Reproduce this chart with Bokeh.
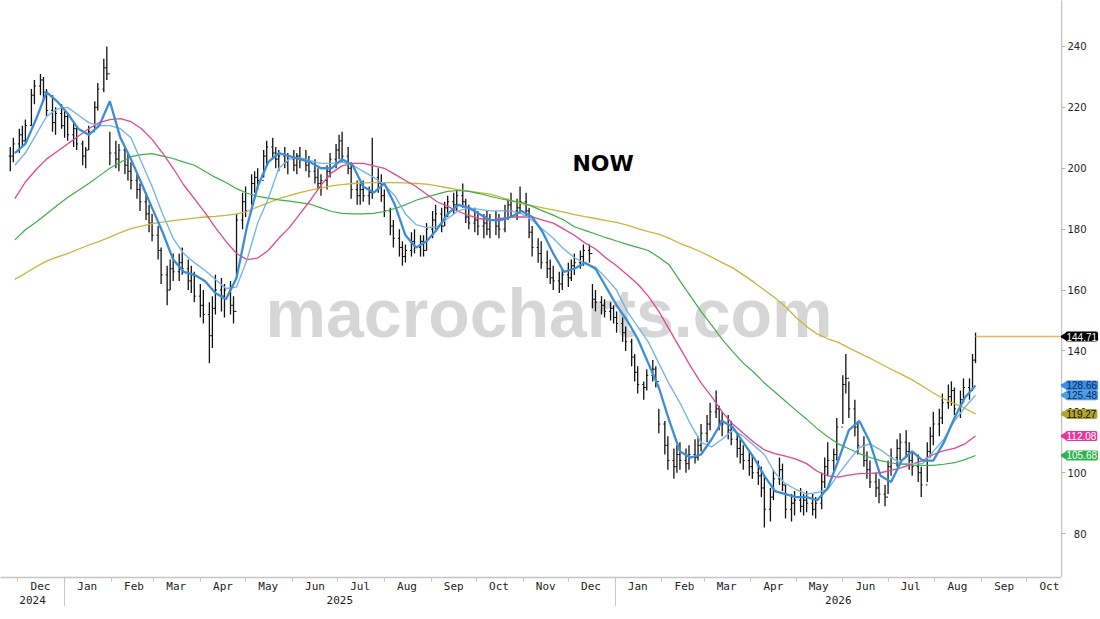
import numpy as np
import pandas as pd
from bokeh.plotting import figure
from bokeh.layouts import row
from bokeh.models import Range1d, LinearAxis, FixedTicker, CustomJSTickFormatter, ColumnDataSource
from bokeh.core.properties import value
from bokeh.embed import file_html
from bokeh.resources import INLINE

# ---------------- data ----------------
bar_start = "2024-11-26"      # first bar; one bar every 2 business days
bar_step = "2B"

high = [
    207, 210, 213, 214, 216, 226, 229, 231, 230, 226,
    224, 220, 221, 219, 218, 215, 214, 209, 207, 214,
    222, 228, 236, 240, 212, 209, 208, 207, 205, 202,
    198, 195, 192, 188, 185, 181, 174, 168, 170, 172,
    172, 174, 170, 168, 166, 162, 160, 156, 158, 165,
    164, 162, 163, 158, 185, 192, 194, 198, 199, 200,
    206, 209, 210, 207, 206, 207, 205, 206, 205, 207,
    206, 204, 203, 200, 198, 201, 205, 208, 211, 212,
    207, 202, 196, 195, 196, 194, 210, 200, 198, 193,
    187, 183, 180, 176, 175, 179, 180, 178, 178, 182,
    186, 188, 187, 189, 191, 192, 193, 195, 190, 188,
    187, 186, 185, 186, 185, 186, 185, 188, 190, 192,
    190, 194, 192, 187, 181, 177, 176, 173, 170, 168,
    166, 167, 169, 170, 172, 173, 175, 175, 162, 160,
    158, 157, 156, 155, 153, 151, 148, 144, 139, 135,
    130, 134, 137, 135, 121, 117, 112, 108, 109, 110,
    108, 109, 111, 112, 116, 119, 123, 127, 122, 120,
    119, 117, 113, 111, 109, 107, 106, 104, 102, 99,
    95, 101, 105, 103, 96, 93, 94, 95, 93, 94,
    93, 92, 100, 105, 110, 108, 118, 132, 139, 130,
    124, 117, 112, 107, 104, 100, 98, 96, 104, 108,
    111, 113, 114, 110, 107, 106, 102, 110, 115, 120,
    121, 126, 129, 130, 128, 127, 131, 131, 139, 146,
]
low = [
    199, 202, 205, 207, 208, 214, 221, 224, 222, 217,
    212, 211, 213, 210, 209, 207, 206, 201, 200, 206,
    213, 219, 225, 229, 201, 200, 199, 198, 196, 193,
    190, 186, 183, 179, 176, 170, 162, 155, 160, 163,
    163, 165, 160, 159, 156, 151, 149, 136, 141, 152,
    153, 151, 152, 149, 164, 180, 184, 188, 192, 193,
    197, 201, 203, 200, 199, 200, 198, 199, 198, 200,
    199, 197, 195, 193, 191, 193, 197, 200, 203, 202,
    198, 190, 188, 188, 189, 188, 190, 192, 189, 184,
    178, 174, 171, 168, 169, 171, 172, 171, 171, 173,
    177, 180, 179, 181, 184, 185, 186, 187, 182, 180,
    179, 178, 177, 178, 177, 178, 177, 179, 183, 184,
    183, 185, 184, 177, 171, 169, 167, 164, 162, 160,
    159, 160, 161, 163, 165, 167, 168, 169, 154, 153,
    152, 151, 150, 149, 146, 143, 140, 135, 130, 126,
    124, 127, 130, 128, 113, 106, 101, 98, 100, 101,
    100, 101, 103, 104, 107, 110, 114, 118, 114, 112,
    111, 109, 105, 103, 101, 99, 98, 96, 92, 82,
    84, 91, 96, 94, 85, 84, 86, 87, 86, 87,
    86, 85, 88, 95, 99, 100, 104, 116, 126, 118,
    112, 106, 102, 98, 95, 92, 90, 89, 93, 99,
    102, 104, 105, 101, 99, 97, 92, 97, 105, 109,
    112, 116, 121, 122, 119, 118, 123, 124, 127, 136,
]
close = [
    204, 208, 211, 209, 214, 224, 227, 229, 225, 219,
    215, 218, 214, 217, 211, 213, 208, 204, 206, 212,
    220, 226, 233, 231, 205, 203, 206, 201, 199, 196,
    193, 189, 185, 182, 178, 173, 165, 160, 167, 166,
    169, 167, 163, 165, 158, 155, 152, 145, 154, 160,
    158, 160, 155, 153, 183, 189, 186, 195, 197, 196,
    204, 207, 205, 203, 204, 202, 203, 201, 204, 203,
    201, 199, 197, 195, 196, 199, 203, 206, 209, 204,
    200, 193, 191, 193, 191, 192, 197, 195, 191, 186,
    181, 177, 174, 171, 173, 176, 174, 176, 173, 180,
    183, 185, 181, 187, 189, 188, 191, 189, 184, 182,
    183, 181, 182, 180, 183, 181, 180, 186, 188, 186,
    187, 189, 186, 179, 174, 172, 169, 167, 164, 163,
    162, 165, 164, 168, 169, 171, 173, 172, 157, 156,
    155, 153, 154, 151, 149, 146, 143, 138, 133, 129,
    128, 132, 134, 130, 116, 109, 104, 102, 106, 104,
    103, 106, 105, 109, 113, 116, 120, 121, 117, 116,
    114, 111, 108, 106, 104, 102, 100, 99, 95, 88,
    92, 98, 101, 96, 88, 90, 91, 89, 91, 90,
    88, 90, 97, 102, 104, 106, 115, 129, 131, 121,
    115, 109, 104, 101, 97, 95, 93, 92, 102, 105,
    108, 110, 107, 104, 102, 100, 96, 107, 112, 116,
    118, 123, 125, 127, 121, 124, 128, 127, 137, 144.71,
]

ma_start = "2024-11-29"       # moving averages read weekly (Fridays)
ma_step = "W-FRI"

ma_fast = [
    205, 208, 216, 225, 222, 218, 213, 211, 214, 222,
    210, 203, 195, 187, 179, 170, 166, 165, 163, 159,
    157, 164, 181, 194, 202, 205, 204, 203, 202, 200,
    200, 203, 201, 194, 192, 195, 188, 178, 174, 176,
    180, 185, 188, 187, 185, 183, 183, 184, 186, 184,
    179, 172, 166, 167, 169, 167, 161, 155, 150, 144,
    136, 128, 117, 107, 105, 106, 111, 117, 115, 110,
    105, 99, 94, 93, 92, 92, 91, 95, 104, 114,
    117, 110, 99, 97, 104, 107, 104, 104, 110, 118,
    124.7, 128.66,
]
ma_mid = [
    201, 205, 211, 217, 219.5, 220, 217.5, 215, 214, 214,
    213, 210, 202, 194, 185, 177, 172, 169, 166.5, 163.5,
    160.5, 161, 170, 182, 190, 200, 203, 203.5, 202.5, 201.6,
    201.6, 202, 201, 199, 197, 194.5, 191, 185, 181.5, 180.5,
    180.8, 183.5, 186, 187, 186.5, 186, 186, 186, 185, 183,
    180, 177, 173.5, 170.7, 168.7, 167.5, 164, 160, 153, 148,
    143, 136, 129, 123, 116, 110, 108.5, 111, 114, 112,
    109, 106, 100, 96.4, 94.5, 93, 93.5, 94.5, 99.5, 104,
    108.3, 109.5, 107.5, 105, 103, 103, 103, 107, 111, 117,
    121.5, 125.48,
]
ma_50 = [
    190, 195.5, 199.5, 203, 205.5, 208, 210.5, 213, 215, 216,
    216.3, 215.3, 213, 209.5, 205, 200, 194.5, 190, 185.5, 180.5,
    176, 172, 170, 170.5, 173, 177, 180.5, 185, 189.5, 194.5,
    198.5, 200.8, 201.6, 201.6, 200.8, 200, 198, 196, 194, 191.5,
    189, 187.5, 185.8, 184.5, 183.5, 183, 183.5, 184, 184, 184,
    183, 182, 180, 178, 175.5, 173.5, 170.5, 168, 165, 162,
    158, 153, 147, 141, 135, 129.5, 125, 120, 116, 113,
    110, 107.5, 106.3, 105.5, 104.5, 103, 100.5, 99, 98.6, 99.2,
    99.7, 99.8, 100, 100.8, 101.7, 102.8, 104, 106, 107.3, 108,
    109.5, 112.08,
]
ma_100 = [
    176.5, 179.8, 182.3, 185, 187.8, 190.4, 192.7, 195, 197.5, 200,
    202, 203.8, 204.5, 204.8, 204, 203.2, 202, 201, 199, 197,
    195.3, 193.3, 191.8, 190.8, 190.2, 189.6, 189.2, 188.7, 188.2, 187,
    185.8, 185.2, 185, 185, 185.2, 185.8, 186.8, 188, 189.5, 190.5,
    191.5, 192.4, 192.7, 192.4, 191.7, 190.8, 190, 189.3, 188.8, 187.5,
    186, 184.6, 183, 180.8, 179.6, 178.4, 177.2, 176.1, 175, 174,
    173, 170.8, 168.2, 163, 158, 153, 148.5, 143.8, 139.8, 136,
    133, 129.5, 126.5, 123.5, 120.5, 117.6, 114.5, 111.8, 109.5, 107.9,
    106.3, 105, 104, 103.2, 102.8, 102.5, 102.4, 102.4, 102.8, 103.3,
    104.3, 105.68,
]
ma_200 = [
    163.5, 165.5, 167.6, 169.5, 170.8, 172, 173.4, 174.8, 176, 177.4,
    178.9, 180.2, 181, 181.8, 182.3, 182.8, 183.2, 183.6, 184, 184.2,
    184.5, 185, 185.8, 187.3, 188.6, 190, 191, 192, 192.8, 193.5,
    194.2, 194.6, 195, 195.2, 195.3, 195.3, 195.3, 195.2, 195, 194.8,
    194.2, 193.6, 193, 192.5, 192, 191.5, 190.5, 189.4, 188.4, 187.7,
    187, 186.3, 185.6, 184.8, 184.1, 183.5, 182.8, 182.2, 181.3, 180.2,
    179.2, 178.4, 177, 175.3, 174, 172.5, 170.8, 169, 167.3, 165,
    162.6, 160, 157.5, 154.5, 151, 148, 145.6, 144, 142.8, 141,
    139.3, 137.6, 135.8, 134, 132.3, 130.5, 128.4, 126.2, 124.3, 122.7,
    121.2, 119.27,
]

view_start = "2024-11-19 12:00"
view_end = "2026-10-24"
y_min, y_max = 65.6, 255.1
y_ticks = [80, 100, 120, 140, 160, 180, 200, 220, 240]
month_first = "2024-12-01"
month_last = "2026-10-01"
year_breaks = ["2025-01-01", "2026-01-01"]
watermark_text = "macrocharts.com"
note_text = "NOW"

# ---------------- styles ----------------
BAR = "#111111"
C_FAST, C_MID, C_50, C_100, C_200 = "#3b8dd8", "#78b5e4", "#e3468d", "#3fae4a", "#c9b53c"
C_LAST = "#e8b46a"
AXIS = "#c4c4c4"
FRAME_W, FRAME_H, SIDE_W = 1061, 577, 39


def to_ms(idx):
    return np.asarray(pd.DatetimeIndex(idx).asi8, dtype=float) / 1e6


bx = to_ms(pd.date_range(bar_start, periods=len(close), freq=bar_step))
mx = to_ms(pd.date_range(ma_start, periods=len(ma_fast), freq=ma_step))
x0 = pd.Timestamp(view_start).value / 1e6
x1 = pd.Timestamp(view_end).value / 1e6
DAY = 86400000.0
yr = Range1d(y_min, y_max)

p = figure(frame_width=FRAME_W, frame_height=FRAME_H, x_axis_location=None, y_axis_location=None,
           x_range=Range1d(x0, x1), y_range=yr,
           output_backend="svg", toolbar_location=None,
           min_border_left=0, min_border_top=0, min_border_right=0, min_border_bottom=0,
           background_fill_color="white", border_fill_color="white", outline_line_color=None)
p.xgrid.visible = False
p.ygrid.visible = False

# watermark & note
p.text(x=[x0 + 0.517 * (x1 - x0)], y=[y_min + 0.459 * (y_max - y_min)], text=[watermark_text],
       text_font=value("Liberation Sans"), text_font_style="bold", text_font_size="68px",
       text_color="#d6d6d6", text_align="center", text_baseline="middle")
p.text(x=[x0 + 0.568 * (x1 - x0)], y=[y_min + 0.718 * (y_max - y_min)], text=[note_text],
       text_font=value("DejaVu Sans"), text_font_style="bold", text_font_size="22px",
       text_color="black", text_align="center", text_baseline="middle")

# OHLC bars
opens = [close[0]] + close[:-1]
p.segment(x0=bx, y0=low, x1=bx, y1=high, line_color=BAR, line_width=1.3)
p.segment(x0=bx - 1.0 * DAY, y0=opens, x1=bx, y1=opens, line_color=BAR, line_width=1)
p.segment(x0=bx, y0=close, x1=bx + 1.0 * DAY, y1=close, line_color=BAR, line_width=1)

# moving averages
p.line(mx, ma_200, line_color=C_200, line_width=1.3)
p.line(mx, ma_100, line_color=C_100, line_width=1.2)
p.line(mx, ma_50, line_color=C_50, line_width=1.3)
p.line(mx, ma_mid, line_color=C_MID, line_width=1.4)
p.line(mx, ma_fast, line_color=C_FAST, line_width=2.3)

# last price line
p.segment(x0=[bx[-1]], y0=[close[-1]], x1=[x1], y1=[close[-1]], line_color=C_LAST, line_width=1.5)

# bottom axes: months, then years
starts = pd.date_range(month_first, month_last, freq="MS")
mids = starts + pd.Timedelta(days=15)
month_js = ("const m=['Jan','Feb','Mar','Apr','May','Jun','Jul','Aug','Sep','Oct','Nov','Dec'];"
            "return m[new Date(tick).getUTCMonth()];")
ax_m = LinearAxis(ticker=FixedTicker(ticks=list(to_ms(mids)), minor_ticks=list(to_ms(starts))),
                  formatter=CustomJSTickFormatter(code=month_js),
                  axis_line_color=AXIS, axis_line_width=1.5,
                  major_tick_out=0, major_tick_in=0, minor_tick_out=4, minor_tick_in=0,
                  minor_tick_line_color=AXIS, major_label_standoff=-2,
                  major_label_text_font="DejaVu Sans Mono", major_label_text_font_size="11px",
                  major_label_text_color="#222222")
p.add_layout(ax_m, "below")

yb = [pd.Timestamp(d).value / 1e6 for d in year_breaks]
edges = [x0] + yb + [x1]
year_mid = [(a + b) / 2 for a, b in zip(edges[:-1], edges[1:])]
year_js = "return String(new Date(tick).getUTCFullYear());"
ax_y = LinearAxis(ticker=FixedTicker(ticks=year_mid, minor_ticks=yb),
                  formatter=CustomJSTickFormatter(code=year_js),
                  axis_line_color=None, major_tick_out=0, major_tick_in=0,
                  minor_tick_in=15, minor_tick_out=13, minor_tick_line_color="#c8c8c8",
                  major_label_standoff=-13,
                  major_label_text_font="DejaVu Sans Mono", major_label_text_font_size="11px",
                  major_label_text_color="#222222")
p.add_layout(ax_y, "below")

# ---------------- right strip: price axis + value tags ----------------
s = figure(frame_width=SIDE_W, frame_height=FRAME_H, x_axis_location=None, y_axis_location=None,
           x_range=Range1d(0, SIDE_W), y_range=yr, output_backend="svg", toolbar_location=None,
           min_border_left=0, min_border_top=0, min_border_right=0, min_border_bottom=0,
           background_fill_color="white", border_fill_color="white", outline_line_color=None)
s.xgrid.visible = False
s.ygrid.visible = False
ax_r = LinearAxis(ticker=FixedTicker(ticks=y_ticks, minor_ticks=[]),
                  axis_line_color=AXIS, axis_line_width=1.5,
                  major_tick_out=0, major_tick_in=4, major_tick_line_color="#b0b0b0",
                  minor_tick_in=0, minor_tick_out=0,
                  major_label_standoff=-25,
                  major_label_text_font="DejaVu Sans", major_label_text_font_size="10px",
                  major_label_text_color="#222222")
s.add_layout(ax_r, "left")

tag_vals = [ma_mid[-1], ma_fast[-1], close[-1], ma_200[-1], ma_50[-1], ma_100[-1]]
tag_bg = ["#4a9de6", "#3a8ee3", "#000000", "#b4a52a", "#e8359a", "#2fb24f"]
tag_fg = ["#102a5c", "#102a5c", "#ffffff", "#111111", "#ffffff", "#ffffff"]
tsrc = ColumnDataSource(dict(x=[4.0] * len(tag_vals), y=tag_vals,
                             t=[f"{v:.2f}" for v in tag_vals], bg=tag_bg, fg=tag_fg))
tri = s.scatter(x=[3.0] * len(tag_vals), y=tag_vals, marker="triangle", size=9, angle=np.pi / 2,
                fill_color=tag_bg, line_color=None)
tri.level = "overlay"
tg = s.text(x="x", y="y", text="t", source=tsrc, text_align="left", text_baseline="middle",
            text_font=value("Liberation Sans"), text_font_size="10px", text_color="fg",
            background_fill_color="bg", padding=1, border_radius=2)
tg.level = "overlay"

layout = row(p, s, spacing=0)
open("out.html", "w").write(file_html(layout, INLINE))
